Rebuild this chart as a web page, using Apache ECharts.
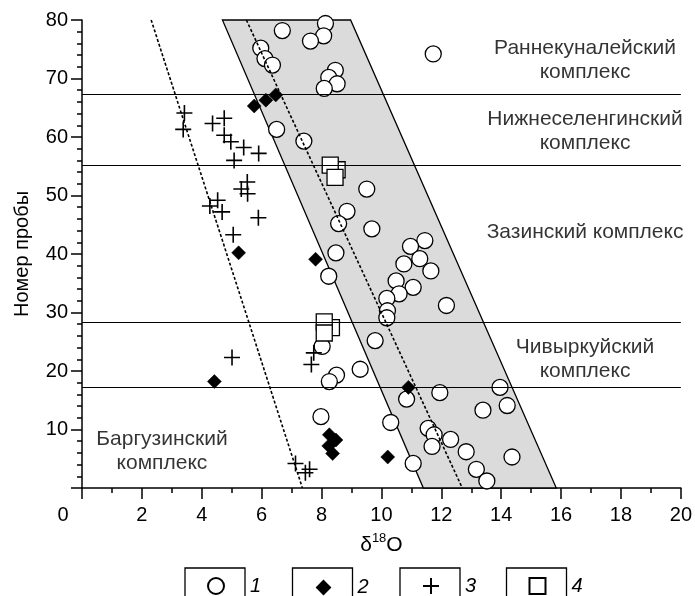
<!DOCTYPE html>
<html>
<head>
<meta charset="utf-8">
<script src="https://cdn.jsdelivr.net/npm/echarts@6/dist/echarts.min.js"></script>
<style>
html,body{margin:0;padding:0;background:#fff;}
#chart{width:695px;height:596px;}
</style>
</head>
<body>
<div id="chart"></div>
<script>
// ---- data ----
const xTicks = [0, 2, 4, 6, 8, 10, 12, 14, 16, 18, 20];
const yTicks = [0, 10, 20, 30, 40, 50, 60, 70, 80];

// series 1: open circles
const circles = [
  [6.69,78.2],[8.13,79.4],[8.07,77.3],[7.63,76.4],[5.97,75.2],[6.11,73.4],[6.36,72.3],
  [8.46,71.4],[8.24,70.2],[8.52,69.1],[8.09,68.3],[11.73,74.2],[6.50,61.3],[7.41,59.3],
  [9.51,51.1],[8.85,47.3],[8.57,45.2],[9.68,44.3],[11.45,42.3],[10.97,41.3],[8.48,40.2],
  [11.28,39.2],[10.75,38.3],[11.65,37.1],[8.24,36.2],[10.49,35.4],[11.06,34.3],[10.59,33.2],
  [10.18,32.4],[12.17,31.2],[10.2,30.3],[10.18,29.1],
  [9.79,25.2],[8.02,24.2],[9.29,20.3],[8.50,19.3],[8.26,18.2],[11.95,16.3],[13.96,17.2],
  [10.84,15.2],[14.20,14.1],[13.39,13.3],[7.98,12.2],[10.31,11.2],[11.56,10.2],[11.76,9.1],
  [12.31,8.3],[11.69,7.1],[12.83,6.2],[14.36,5.3],[11.06,4.2],[13.17,3.2],[13.52,1.2]
];
// series 2: filled diamonds
const diamonds = [
  [5.75,65.3],[6.14,66.3],[6.47,67.2],[5.23,40.2],[7.80,39.1],[4.42,18.2],[10.90,17.2],
  [8.26,9.1],[8.48,8.2],[8.24,7.2],[8.37,5.9],[10.21,5.3]
];
// series 3: crosses
const crosses = [
  [3.42,64.1],[3.38,61.3],[4.36,62.3],[4.75,63.2],[4.75,60.3],[4.97,59.2],[5.40,58.2],
  [5.90,57.2],[5.08,56.0],[5.52,52.3],[5.32,51.1],[5.53,50.3],[4.53,49.2],[4.27,48.2],
  [4.68,47.2],[5.89,46.2],[5.05,43.3],[5.01,22.3],[7.74,23.1],[7.66,21.1],[7.13,4.2],
  [7.46,2.6],[7.60,3.2]
];
// series 4: open squares
const squares = [
  [8.52,54.4],[8.29,55.2],[8.45,53.1],[8.33,27.4],[8.09,28.4],[8.09,26.5]
];

// grey band (parallelogram) vertices
const bandX = [4.69, 8.97, 15.84, 11.40];
const bandY = [80, 80, 0, 0];
// dashed trend lines
const dashLeft = [[2.31, 80], [7.36, 0]];
const dashMid = [[5.49, 80], [12.70, 0]];
// complex boundaries
const boundaries = [67.3, 55.2, 28.3, 17.2];
// complex labels
const complexNames = ['Раннекуналейский\nкомплекс', 'Нижнеселенгинский\nкомплекс', 'Зазинский комплекс', 'Чивыркуйский\nкомплекс', 'Баргузинский\nкомплекс'];
const complexPos = [[16.8, 73.2], [16.8, 61.05], [16.8, 43.8], [16.8, 22.05], [2.67, 6.37]];

const seriesNames = ['1', '2', '3', '4'];
const FONT = 'Liberation Sans, Arial, sans-serif';

const chart = echarts.init(document.getElementById('chart'), null, {renderer: 'canvas'});

const crossPath = 'path://M0,50L100,50M50,0L50,100';

const legendCenters = [215, 322.5, 430, 536.5];
const legendSizes = [[16,16],[13,13],[16,16],[16,16]];
const legends = seriesNames.map((n, i) => ({
  data: [n],
  left: legendCenters[i] - legendSizes[i][0] / 2,
  top: 584 - legendSizes[i][1] / 2,
  padding: 0,
  itemWidth: legendSizes[i][0],
  itemHeight: legendSizes[i][1],
  selectedMode: false,
  formatter: name => '{g|}{n|' + name + '}',
  textStyle: {
    color: '#000', fontFamily: FONT, fontSize: 20,
    rich: {
      g: {width: 34 - legendSizes[i][0] / 2 - 5},
      n: {fontStyle: 'italic', fontSize: 20, fontFamily: FONT, color: '#000'}
    }
  }
}));

const boxes = legendCenters.map(c => ({
  type: 'rect',
  shape: {x: c - 30, y: 568, width: 60, height: 40},
  style: {fill: '#fff', stroke: '#000', lineWidth: 1.3},
  z: -1
}));

const option = {
  animation: false,
  backgroundColor: '#fff',
  grid: {left: 82, right: 11, top: 20, bottom: 108, containLabel: false},
  legend: legends,
  graphic: boxes,
  xAxis: {
    type: 'value', min: xTicks[0], max: xTicks[xTicks.length - 1], interval: 2,
    name: '{a|δ}{b|18}{a|O}', nameLocation: 'middle', nameGap: 44,
    nameTextStyle: {
      color: '#000', fontFamily: FONT, fontSize: 20,
      rich: {
        a: {fontSize: 21, fontFamily: FONT, color: '#000', lineHeight: 26},
        b: {fontSize: 13, fontFamily: FONT, color: '#000', lineHeight: 14, verticalAlign: 'top'}
      }
    },
    axisLine: {lineStyle: {color: '#000', width: 1.5}},
    axisTick: {show: true, inside: false, length: 11, lineStyle: {color: '#000', width: 1.5}},
    minorTick: {show: true, splitNumber: 2, length: 5, lineStyle: {color: '#000', width: 1.5}},
    splitLine: {show: false},
    axisLabel: {
      color: '#000', fontFamily: FONT, fontSize: 20, margin: 17,
      formatter: v => v === 0 ? '{z|0}' : String(v),
      rich: {z: {padding: [0, 38, 0, 0], fontSize: 20, fontFamily: FONT, color: '#000'}}
    }
  },
  yAxis: {
    type: 'value', min: yTicks[0], max: yTicks[yTicks.length - 1], interval: 10,
    name: 'Номер пробы', nameLocation: 'middle', nameGap: 50,
    nameTextStyle: {color: '#000', fontFamily: FONT, fontSize: 20},
    axisLine: {show: true, lineStyle: {color: '#000', width: 1.5}},
    axisTick: {show: true, inside: false, length: 11, lineStyle: {color: '#000', width: 1.5}},
    minorTick: {show: true, splitNumber: 5, length: 5, lineStyle: {color: '#000', width: 1.5}},
    splitLine: {show: false},
    axisLabel: {
      color: '#000', fontFamily: FONT, fontSize: 20, margin: 14,
      formatter: v => v === 0 ? '' : String(v)
    }
  },
  series: [
    {
      type: 'custom', name: 'band', z: 1, silent: true,
      data: bandX.map((x, i) => [x, bandY[i]]),
      renderItem: (params, api) => {
        if (params.dataIndex !== 0) return null;
        const pts = bandX.map((x, i) => api.coord([x, bandY[i]]));
        return {type: 'polygon', shape: {points: pts}, style: {fill: '#dbdbdb', stroke: '#000', lineWidth: 1.3}};
      }
    },
    {
      name: '1', type: 'scatter', z: 2, data: circles, symbol: 'circle', symbolSize: 16,
      itemStyle: {color: '#fff', borderColor: '#000', borderWidth: 1.3, opacity: 1}
    },
    {
      type: 'line', name: 'dashL', z: 3, data: dashLeft, symbol: 'none', silent: true,
      lineStyle: {color: '#000', width: 1.6, type: [3, 2]}
    },
    {
      type: 'line', name: 'dashM', z: 3, data: dashMid, symbol: 'none', silent: true,
      lineStyle: {color: '#000', width: 1.6, type: [3, 2]}
    },
    {
      type: 'line', name: 'bounds', z: 3, data: [], silent: true,
      markLine: {
        silent: true, symbol: ['none', 'none'], label: {show: false},
        lineStyle: {color: '#000', type: 'solid', width: 1.2},
        data: boundaries.map(v => ({yAxis: v}))
      }
    },
    {
      name: '2', type: 'scatter', z: 4, data: diamonds, symbol: 'diamond', symbolSize: 14,
      itemStyle: {color: '#000', borderColor: '#000', borderWidth: 0.5, opacity: 1}
    },
    {
      name: '3', type: 'scatter', z: 4, data: crosses, symbol: crossPath, symbolSize: 16,
      itemStyle: {color: '#000', borderColor: '#000', borderWidth: 1.6, opacity: 1}
    },
    {
      name: '4', type: 'scatter', z: 4, data: squares, symbol: 'rect', symbolSize: 16,
      itemStyle: {color: '#fff', borderColor: '#000', borderWidth: 1.3, opacity: 1}
    },
    {
      type: 'scatter', name: 'labels', z: 5, silent: true, symbolSize: 0,
      data: complexPos.map((p, i) => ({value: p, name: complexNames[i]})),
      label: {
        show: true, position: 'inside', formatter: '{b}',
        color: '#000', fontFamily: FONT, fontSize: 21, lineHeight: 24, align: 'center'
      }
    }
  ]
};
chart.setOption(option);
</script>
</body>
</html>
